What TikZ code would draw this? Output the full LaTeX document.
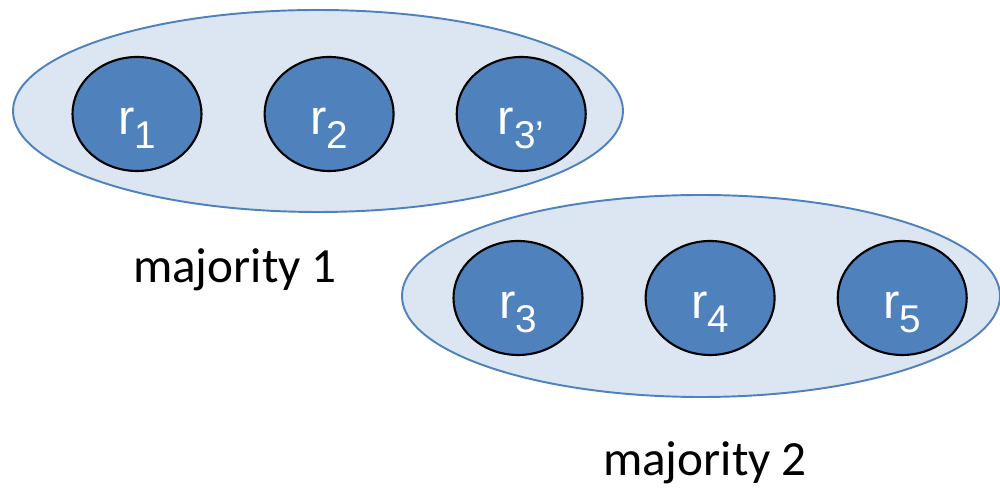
\documentclass[tikz,border=0pt]{standalone}
\usepackage{fontspec}
\usepackage{tikz}
\usetikzlibrary{positioning,shapes.geometric}
\setmainfont{Carlito}
\newfontfamily\arialfont{Liberation Sans}
\definecolor{grpfill}{HTML}{DCE6F2}
\definecolor{grpline}{HTML}{4F81BD}
\definecolor{repfill}{HTML}{4F81BD}
\newcommand{\repl}[1]{r\raisebox{-0.27cm}{\fontsize{22}{22}\selectfont #1}}
\tikzset{
  group/.style  ={ellipse, fill=grpfill, draw=grpline, line width=1.1pt,
                  minimum width=12.2cm, minimum height=4.04cm, inner sep=0pt},
  replica/.style={ellipse, fill=repfill, draw=black, line width=1.2pt,
                  minimum width=2.58cm, minimum height=2.28cm, inner sep=0pt,
                  text height=1cm, text depth=0.16cm,
                  text=white, font=\arialfont\fontsize{28}{28}\selectfont},
  caption/.style={font=\fontsize{28}{28}\selectfont, text=black},
}
\begin{document}
\begin{tikzpicture}
    \useasboundingbox (0,0) rectangle (20,9.82);
    % --- majority 1 ---
    \node[group] (g1) at (6.36,7.60){};
    \node[replica] (r1) at (2.74,7.54){\repl{1}};
    \node[replica,right=1.22cm of r1] (r2){\repl{2}};
    \node[replica,right=1.22cm of r2] (r3p){\repl{3’}};
    \node[caption] (maj1) at (4.70,4.42){majority 1};
    % --- majority 2 ---
    \node[group,minimum width=11.96cm] (g2) at (14.02,3.90){};
    \node[replica] (r3) at (10.36,3.86){\repl{3}};
    \node[replica,right=1.22cm of r3] (r4){\repl{4}};
    \node[replica,right=1.22cm of r4] (r5){\repl{5}};
    \node[caption] (maj2) at (14.10,0.56){majority 2};
\end{tikzpicture}
\end{document}
